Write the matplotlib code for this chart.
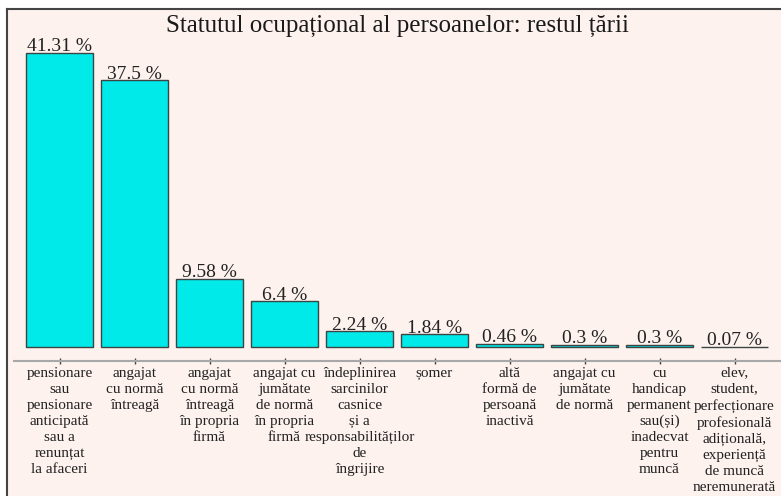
import matplotlib.pyplot as plt
from matplotlib.patches import Rectangle
from matplotlib.lines import Line2D

plt.rcParams['font.family'] = ['Liberation Serif', 'DejaVu Serif']

# data
categories = [
    "pensionare\nsau\npensionare\nanticipată\nsau a\nrenunțat\nla afaceri",
    "angajat\ncu normă\nîntreagă",
    "angajat\ncu normă\nîntreagă\nîn propria\nfirmă",
    "angajat cu\njumătate\nde normă\nîn propria\nfirmă",
    "îndeplinirea\nsarcinilor\ncasnice\nși a\nresponsabilităților\nde\nîngrijire",
    "șomer",
    "altă\nformă de\npersoană\ninactivă",
    "angajat cu\njumătate\nde normă",
    "cu\nhandicap\npermanent\nsau(și)\ninadecvat\npentru\nmuncă",
    "elev,\nstudent,\nperfecționare\nprofesională\nadițională,\nexperiență\nde muncă\nneremunerată",
]
values = [41.31, 37.5, 9.58, 6.4, 2.24, 1.84, 0.46, 0.3, 0.3, 0.07]
title = "Statutul ocupațional al persoanelor: restul țării"

bg = '#fdf2ee'
bar_color = '#00eaea'
W, H = 781, 496

fig = plt.figure(figsize=(W / 100, H / 100), dpi=100)
fig.patch.set_facecolor('white')

# panel background with dark left/top border
fig.patches.append(Rectangle((7 / W, 0), 1 - 7 / W, (H - 9) / H,
                             transform=fig.transFigure, facecolor=bg,
                             edgecolor='none', zorder=-10))
fig.lines.append(Line2D([7 / W, 7 / W], [0, (H - 9) / H], transform=fig.transFigure,
                        color='#444444', lw=1.5, zorder=-9))
fig.lines.append(Line2D([7 / W, 1], [(H - 9) / H, (H - 9) / H], transform=fig.transFigure,
                        color='#444444', lw=1.5, zorder=-9))

# axes: bottom spine at y=361px, top at 9px
ax_bottom_px, ax_top_px = 361, 9
ax = fig.add_axes([14 / W, (H - ax_bottom_px) / H, (W - 14) / W, (ax_bottom_px - ax_top_px) / H])
ax.set_facecolor('none')

px_per_unit = 7.12
zero_px = 347
ax.set_ylim(-(ax_bottom_px - zero_px) / px_per_unit, (zero_px - ax_top_px) / px_per_unit)
ax.set_xlim((14 - 59.5) / 75, (W - 59.5) / 75)

x = range(len(values))
ax.bar(x, values, width=67 / 75, color=bar_color, edgecolor='#3d4444', linewidth=1)

for i, v in zip(x, values):
    ax.annotate(f"{v:g} %", (i, v), xytext=(0, 1), textcoords='offset points',
                ha='center', va='baseline', fontsize=14, color='#222222')

ax.set_xticks(list(x))
ax.set_xticklabels(categories, fontsize=11, linespacing=1.3, color='#222222')
ax.tick_params(axis='x', direction='inout', length=4, width=1, color='#444444', pad=2)
ax.set_yticks([])
for s in ['left', 'right', 'top']:
    ax.spines[s].set_visible(False)
ax.spines['bottom'].set_color('#a8a8a8')
ax.spines['bottom'].set_linewidth(1.5)

fig.text(397 / W, (H - 32) / H, title, ha='center', va='baseline', fontsize=18, color='#1a1a1a')

plt.savefig('out.png', dpi=100, facecolor=fig.get_facecolor())
